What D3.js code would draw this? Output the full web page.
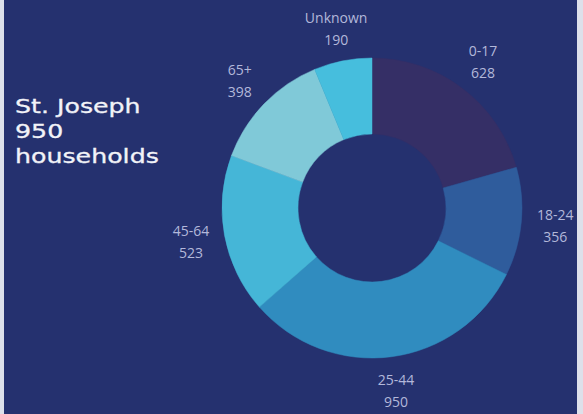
<!DOCTYPE html>
<html>
<head>
<meta charset="utf-8">
<script src="https://cdn.jsdelivr.net/npm/d3@7"></script>
<style>
  html, body { margin: 0; padding: 0; background: #dde0ea; }
  svg { display: block; }
</style>
</head>
<body>
<script>
var ageGroups = ['0-17', '18-24', '25-44', '45-64', '65+', 'Unknown'];
var households = [628, 356, 950, 523, 398, 190];
var sliceColors = ['#352f66', '#2f5c9c', '#308cbf', '#45b6d7', '#80c9d8', '#46bedd'];
var titleLines = ['St. Joseph', '950', 'households'];

var width = 583, height = 414;
var cx = 372, cy = 208;
var outerR = 150, innerR = 74, labelR = 184;

var data = ageGroups.map(function(g, i) {
  return { group: g, value: households[i], color: sliceColors[i] };
});

var svg = d3.select('body').append('svg')
    .attr('width', width)
    .attr('height', height);

svg.append('clipPath').attr('id', 'panel')
  .append('rect')
    .attr('x', 4).attr('y', 0)
    .attr('width', 573).attr('height', height);

var panel = svg.append('g').attr('clip-path', 'url(#panel)');

panel.append('rect')
    .attr('x', 4).attr('y', 0)
    .attr('width', 573).attr('height', height)
    .attr('fill', '#25316f');

var pie = d3.pie().sort(null).value(function(d) { return d.value; });
var arc = d3.arc().innerRadius(innerR).outerRadius(outerR);
var labelArc = d3.arc().innerRadius(labelR).outerRadius(labelR);

var chart = panel.append('g')
    .attr('transform', 'translate(' + cx + ',' + cy + ')');

var arcs = pie(data);

chart.selectAll('path')
    .data(arcs)
    .enter()
    .append('path')
    .attr('d', arc)
    .attr('fill', function(d) { return d.data.color; })
    .attr('stroke', function(d) { return d.data.color; })
    .attr('stroke-width', 0.5);

var labels = chart.selectAll('text.lbl')
    .data(arcs)
    .enter()
    .append('text')
    .attr('class', 'lbl')
    .attr('transform', function(d) { return 'translate(' + labelArc.centroid(d) + ')'; })
    .attr('text-anchor', 'middle')
    .attr('font-family', '"Open Sans", sans-serif')
    .attr('font-size', 14)
    .attr('fill', '#b3b8da');

labels.append('tspan')
    .attr('x', 0).attr('y', -5)
    .text(function(d) { return d.data.group; });
labels.append('tspan')
    .attr('x', 0).attr('y', 17)
    .text(function(d) { return d.data.value; });

// title: wide geometric face, faked by stretching
panel.append('g')
    .attr('transform', 'translate(15,0) scale(1.33,1)')
    .selectAll('text')
    .data(titleLines)
    .enter()
    .append('text')
    .attr('x', 0)
    .attr('y', function(d, i) { return 113 + i * 25; })
    .attr('font-family', '"DejaVu Sans", sans-serif')
    .attr('font-size', 19)
    .attr('fill', '#f2f3f8')
    .attr('stroke', '#f2f3f8')
    .attr('stroke-width', 0.3)
    .text(function(d) { return d; });
</script>
</body>
</html>
